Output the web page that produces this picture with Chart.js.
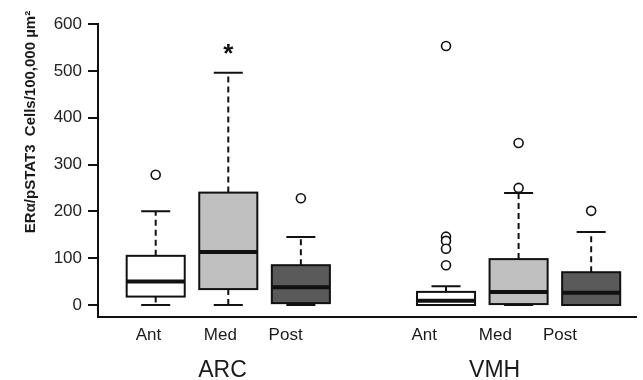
<!DOCTYPE html>
<html>
<head>
<meta charset="utf-8">
<script src="https://cdn.jsdelivr.net/npm/chart.js@4/dist/chart.umd.min.js"></script>
<style>
  html, body { margin: 0; padding: 0; background: #fff; }
  #wrap { width: 643px; height: 380px; position: relative; }
</style>
</head>
<body>
<div id="wrap"><canvas id="boxChart"></canvas></div>
<script>
// ---- data ----
const groups = ['ARC', 'VMH'];
const regions = ['Ant', 'Med', 'Post', 'Ant', 'Med', 'Post'];
const whiskerLow = [0, 0, 0, 0, 0, 0];
const q1 = [18, 34, 4, 0, 2, 0];
const medians = [50, 113, 38, 9, 28, 26];
const q3 = [105, 240, 85, 28, 98, 70];
const whiskerHigh = [200, 496, 145, 40, 239, 156];
const outliers = [[278], [], [228], [553, 146, 137, 120, 85], [346, 250], [201]];
const significance = ['', '*', '', '', '', ''];
const yTicks = [0, 100, 200, 300, 400, 500, 600];
const yTitle = 'ER\u03b1/pSTAT3  Cells/100,000 \u00b5m\u00b2';

// slot on the x axis for each box (gap between the two groups)
const slotOf = i => i + (i >= 3 ? 2 : 1);

const boxFills = ['#ffffff', '#c0c0c0', '#5a5a5a'];
const FONT = "'Liberation Sans', Arial, sans-serif";

// text layout (where the labels sit under the axis)
const REGION_LABEL_X = [0.9, 1.89, 2.79, 4.70, 5.68, 6.57];
const GROUP_LABEL_X = [1.92, 5.67];

const outlierPoints = [];
outliers.forEach((list, i) => list.forEach(v => outlierPoints.push({ x: slotOf(i), y: v })));

const boxPlugin = {
    id: 'boxes',
    beforeDatasetsDraw(chart) {
        const { ctx, scales: { x, y } } = chart;
        const halfBox = x.getPixelForValue(1.4) - x.getPixelForValue(1);
        const halfCap = halfBox / 2;
        ctx.save();
        regions.forEach((_, i) => {
            const cx = x.getPixelForValue(slotOf(i));
            const pLow = y.getPixelForValue(whiskerLow[i]);
            const pQ1 = y.getPixelForValue(q1[i]);
            const pMed = y.getPixelForValue(medians[i]);
            const pQ3 = y.getPixelForValue(q3[i]);
            const pHigh = y.getPixelForValue(whiskerHigh[i]);

            // whiskers
            ctx.strokeStyle = '#111';
            ctx.lineWidth = 2;
            ctx.setLineDash([6, 4]);
            ctx.beginPath();
            ctx.moveTo(cx, pQ3); ctx.lineTo(cx, pHigh);
            ctx.moveTo(cx, pQ1); ctx.lineTo(cx, pLow);
            ctx.stroke();
            ctx.setLineDash([]);
            ctx.beginPath();
            ctx.moveTo(cx - halfCap, pHigh); ctx.lineTo(cx + halfCap, pHigh);
            ctx.moveTo(cx - halfCap, pLow); ctx.lineTo(cx + halfCap, pLow);
            ctx.stroke();

            // box
            ctx.fillStyle = boxFills[i % 3];
            ctx.fillRect(cx - halfBox, pQ3, halfBox * 2, pQ1 - pQ3);
            ctx.strokeRect(cx - halfBox, pQ3, halfBox * 2, pQ1 - pQ3);

            // median
            ctx.lineWidth = 4;
            ctx.beginPath();
            ctx.moveTo(cx - halfBox, pMed); ctx.lineTo(cx + halfBox, pMed);
            ctx.stroke();

            // significance mark
            if (significance[i]) {
                ctx.fillStyle = '#111';
                ctx.font = 'bold 26px ' + FONT;
                ctx.textAlign = 'center';
                ctx.textBaseline = 'alphabetic';
                ctx.fillText(significance[i], cx, pHigh - 11);
            }
        });
        ctx.restore();
    },
    afterDraw(chart) {
        const { ctx, scales: { x } } = chart;
        ctx.save();
        ctx.fillStyle = '#1a1a1a';
        ctx.textAlign = 'center';
        ctx.textBaseline = 'alphabetic';
        ctx.font = '17px ' + FONT;
        regions.forEach((r, i) => ctx.fillText(r, x.getPixelForValue(REGION_LABEL_X[i]), 340));
        ctx.font = '23px ' + FONT;
        groups.forEach((g, i) => ctx.fillText(g, x.getPixelForValue(GROUP_LABEL_X[i]), 377));

        // rotated y title
        ctx.translate(31, 122);
        ctx.rotate(-Math.PI / 2);
        ctx.font = 'bold 15px ' + FONT;
        ctx.textBaseline = 'middle';
        ctx.fillText(yTitle, 0, 0);
        ctx.restore();
    }
};

new Chart(document.getElementById('boxChart'), {
    type: 'scatter',
    data: {
        datasets: [{
            data: outlierPoints,
            pointStyle: 'circle',
            pointRadius: 4.5,
            pointBackgroundColor: '#ffffff',
            pointBorderColor: '#111',
            pointBorderWidth: 1.6
        }]
    },
    options: {
        responsive: true,
        maintainAspectRatio: false,
        animation: false,
        layout: { padding: { top: 24, right: 3, left: 0, bottom: 0 } },
        plugins: { legend: { display: false }, tooltip: { enabled: false } },
        scales: {
            x: {
                type: 'linear',
                min: 0.205,
                max: 7.63,
                ticks: { display: false },
                grid: { display: true, drawOnChartArea: false, drawTicks: false },
                border: { display: true, color: '#111', width: 2 },
                afterFit(scale) { scale.height = 63; }
            },
            y: {
                min: -25.6,
                max: 600,
                afterBuildTicks(scale) { scale.ticks = yTicks.map(v => ({ value: v })); },
                ticks: { color: '#222', padding: 6, font: { family: FONT, size: 17 } },
                grid: { drawOnChartArea: false, drawTicks: true, tickLength: 10, color: '#111', lineWidth: 2 },
                border: { display: true, color: '#111', width: 2 },
                afterFit(scale) { scale.width = 98; }
            }
        }
    },
    plugins: [boxPlugin]
});
</script>
</body>
</html>
